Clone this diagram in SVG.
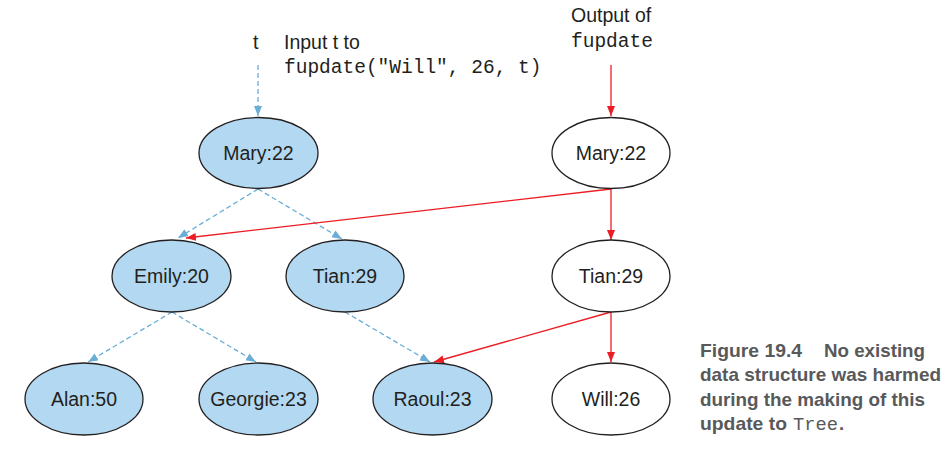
<svg xmlns="http://www.w3.org/2000/svg" width="948" height="454" viewBox="0 0 948 454">
<style>
.node{stroke:#231f20;stroke-width:1.3}
.old{fill:#b2d8f2}
.new{fill:#ffffff}
.lbl{font-family:"Liberation Sans",Arial,sans-serif;font-size:19.5px;fill:#231f20;text-anchor:middle}
.txt{font-family:"Liberation Sans",Arial,sans-serif;font-size:19.5px;fill:#231f20}
.mono{font-family:"Liberation Mono","Courier New",monospace;font-size:19.5px;fill:#231f20}
.blue{stroke:#6aaed8;stroke-width:1.3;stroke-dasharray:5,3;fill:none}
.red{stroke:#ed1c24;stroke-width:1.3;fill:none}
.cap{font-family:"Liberation Sans",Arial,sans-serif;font-weight:bold;font-size:18.5px;fill:#58595b}
.capm{font-family:"Liberation Mono","Courier New",monospace;font-size:19px;fill:#58595b}
</style>
<defs>
<marker id="ab" markerUnits="userSpaceOnUse" markerWidth="12" markerHeight="10" refX="10" refY="4" orient="auto">
<path d="M0,0 L10,4 L0,8 Z" fill="#6aaed8"/>
</marker>
<marker id="ar" markerUnits="userSpaceOnUse" markerWidth="12" markerHeight="10" refX="10" refY="4" orient="auto">
<path d="M0,0 L10,4 L0,8 Z" fill="#ed1c24"/>
</marker>
</defs>
<g id="labels">
<text class="txt" x="253" y="49">t</text>
<text class="txt" x="284" y="49">Input t to</text>
<text class="mono" x="284" y="73">fupdate("Will", 26, t)</text>
<text class="txt" x="571" y="22">Output of</text>
<text class="mono" x="571" y="47">fupdate</text>
</g>
<g id="connectors">
<path class="blue" d="M258,65 L258,116" marker-end="url(#ab)"/>
<path class="red" d="M611,65 L611,116" marker-end="url(#ar)"/>
<path class="blue" d="M258,189 L178,238" marker-end="url(#ab)"/>
<path class="blue" d="M258,189 L342,239" marker-end="url(#ab)"/>
<path class="red" d="M611,189 L186,238" marker-end="url(#ar)"/>
<path class="red" d="M611,189 L611,240" marker-end="url(#ar)"/>
<path class="blue" d="M172,312 L88,362" marker-end="url(#ab)"/>
<path class="blue" d="M172,312 L256,362" marker-end="url(#ab)"/>
<path class="blue" d="M345,312 L430,362" marker-end="url(#ab)"/>
<path class="red" d="M611,312 L434,362" marker-end="url(#ar)"/>
<path class="red" d="M611,312 L611,362" marker-end="url(#ar)"/>
</g>
<g id="mary-old"><ellipse class="node old" cx="258.5" cy="153" rx="59.5" ry="35.5"/><text class="lbl" x="258.5" y="160">Mary:22</text></g>
<g id="mary-new"><ellipse class="node new" cx="611" cy="153" rx="59" ry="35.5"/><text class="lbl" x="611" y="160">Mary:22</text></g>
<g id="emily"><ellipse class="node old" cx="171.5" cy="276" rx="59.5" ry="36"/><text class="lbl" x="171.5" y="283">Emily:20</text></g>
<g id="tian-old"><ellipse class="node old" cx="345" cy="276" rx="59" ry="36"/><text class="lbl" x="345" y="283">Tian:29</text></g>
<g id="tian-new"><ellipse class="node new" cx="611" cy="276" rx="59" ry="36"/><text class="lbl" x="611" y="283">Tian:29</text></g>
<g id="alan"><ellipse class="node old" cx="84" cy="399" rx="59" ry="36"/><text class="lbl" x="84" y="406">Alan:50</text></g>
<g id="georgie"><ellipse class="node old" cx="258.5" cy="399" rx="59.5" ry="36"/><text class="lbl" x="258.5" y="406">Georgie:23</text></g>
<g id="raoul"><ellipse class="node old" cx="432.5" cy="399" rx="59.5" ry="36"/><text class="lbl" x="432.5" y="406">Raoul:23</text></g>
<g id="will"><ellipse class="node new" cx="611" cy="399" rx="59" ry="36"/><text class="lbl" x="611" y="406">Will:26</text></g>
<g id="caption">
<text class="cap" x="700" y="357" textLength="102" lengthAdjust="spacingAndGlyphs">Figure 19.4</text>
<text class="cap" x="824" y="357" textLength="101" lengthAdjust="spacingAndGlyphs">No existing</text>
<text class="cap" x="700" y="381" textLength="241" lengthAdjust="spacingAndGlyphs">data structure was harmed</text>
<text class="cap" x="700" y="406" textLength="225" lengthAdjust="spacingAndGlyphs">during the making of this</text>
<text class="cap" x="700" y="430" textLength="87" lengthAdjust="spacingAndGlyphs">update to</text>
<text class="capm" x="793" y="430" textLength="45" lengthAdjust="spacingAndGlyphs">Tree</text>
<text class="cap" x="839" y="430">.</text>
</g>
</svg>
